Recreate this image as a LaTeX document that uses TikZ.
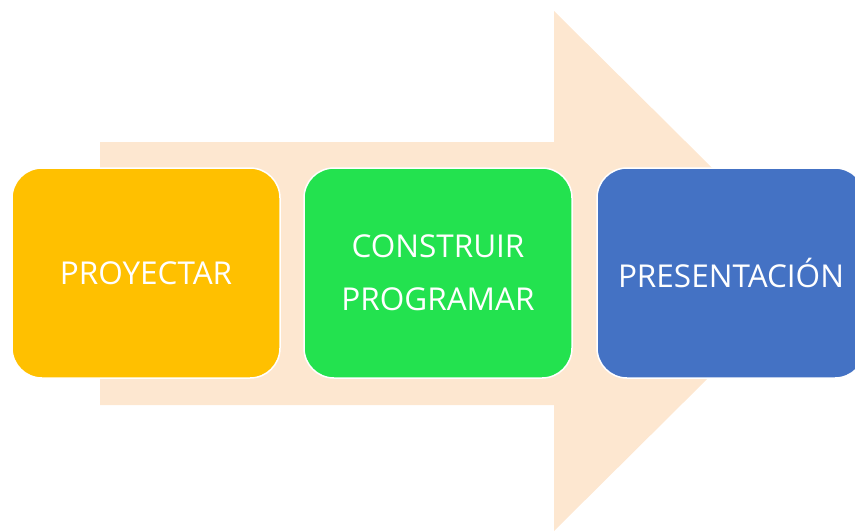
\documentclass[tikz,border=0pt]{standalone}
\usepackage{fontspec}
\setmainfont{Open Sans}
\definecolor{peach}{HTML}{FDE7D0}
\definecolor{boxyellow}{HTML}{FFC000}
\definecolor{boxgreen}{HTML}{23E24F}
\definecolor{boxblue}{HTML}{4472C4}
\begin{document}
\begin{tikzpicture}[x=1pt,y=-1pt,
  stagebox/.style={draw=white, line width=1.5pt, rounded corners=30pt, minimum width=268pt, minimum height=210pt, inner sep=0pt, text=white, align=center, font=\fontsize{31.5}{53}\selectfont}]
\useasboundingbox (0,0) rectangle (855,531);
\fill[peach] (100,142) -- (554,142) -- (554,11) -- (816,271) -- (554,531) -- (554,405) -- (100,405) -- cycle;
\node[stagebox, fill=boxyellow] (p) at (146,273) {PROYECTAR};
\node[stagebox, fill=boxgreen] (c) at (438,273) {CONSTRUIR\\PROGRAMAR};
\node[stagebox, fill=boxblue] (s) at (731,273) {PRESENTACIÓN};
\end{tikzpicture}
\end{document}
